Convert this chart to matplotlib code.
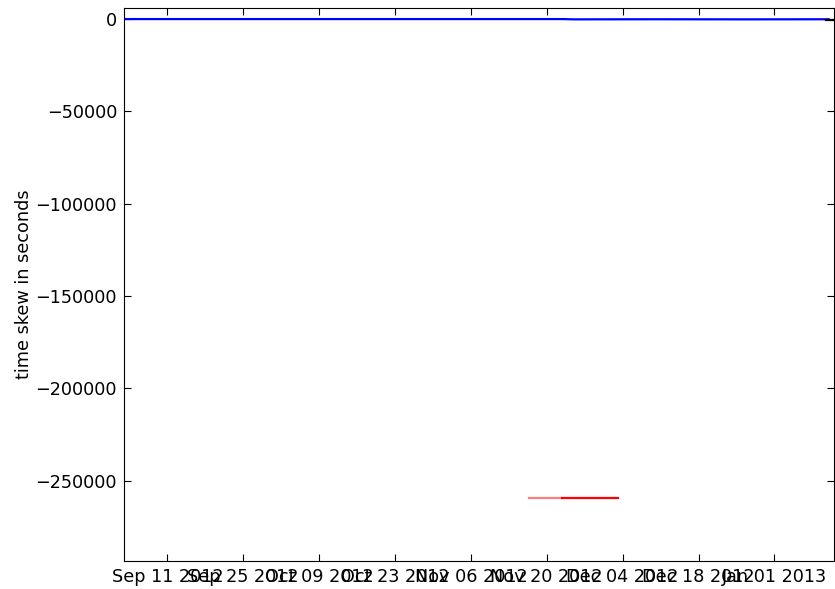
import matplotlib
matplotlib.use("Agg")
import matplotlib.pyplot as plt
import matplotlib.dates as mdates
import numpy as np
import pandas as pd

# ── data ──────────────────────────────────────────────────────────────────────
# skew of the reference host (blue), close to zero over the whole period
blue_dates = ["2012-09-03", "2012-10-01", "2012-10-29", "2012-11-23",
              "2012-11-25", "2012-12-10", "2012-12-27", "2013-01-11"]
blue_skew  = [0, 0, 0, 0, -150, -100, -150, -100]

# one host jumping far back in late November (red)
red_dates_a = ["2012-11-16 18:00", "2012-11-22 18:00"]
red_skew_a  = [-259300, -259300]
red_dates_b = ["2012-11-22 18:00", "2012-12-03 02:00"]
red_skew_b  = [-259200, -259200]

# tiny black segment at the end
black_dates = ["2013-01-10 12:00", "2013-01-12 00:00"]
black_skew  = [-500, -500]

tick_dates = pd.date_range("2012-09-11", "2013-01-01", freq="14D")

# ── plot ──────────────────────────────────────────────────────────────────────
plt.rcParams["font.family"] = "DejaVu Sans"
plt.rcParams["xtick.direction"] = "in"
plt.rcParams["ytick.direction"] = "in"

fig = plt.figure(figsize=(8.35, 5.89), dpi=100)
ax = fig.add_axes([124 / 835, 28 / 589, 710 / 835, 553 / 589])

ax.plot(pd.to_datetime(blue_dates), blue_skew, color="blue", lw=1.6)
ax.plot(pd.to_datetime(red_dates_a), red_skew_a, color="red", lw=1.6, alpha=0.5)
ax.plot(pd.to_datetime(red_dates_b), red_skew_b, color="red", lw=1.6)
ax.plot(pd.to_datetime(black_dates), black_skew, color="black", lw=1.6)

ax.set_xlim(pd.Timestamp("2012-09-03"), pd.Timestamp("2013-01-12"))
ax.set_ylim(-293500, 6000)
ax.set_xticks(tick_dates)
ax.xaxis.set_major_formatter(mdates.DateFormatter("%b %d %Y"))
ax.set_yticks([0, -50000, -100000, -150000, -200000, -250000])

ax.tick_params(axis="both", which="major", labelsize=12.7, length=5,
               top=True, right=True, pad=5)
ax.set_ylabel("time skew in seconds", fontsize=12.7, labelpad=2)

fig.savefig("out.png", dpi=100)
